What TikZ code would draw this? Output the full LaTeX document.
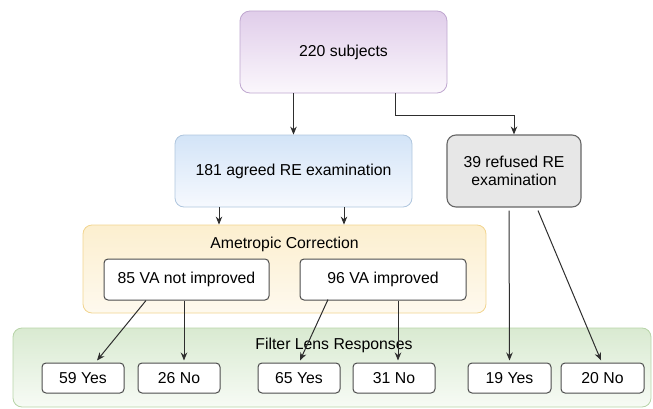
\documentclass[tikz,border=0pt]{standalone}
\usepackage{fontspec}
\setmainfont{Liberation Sans}
\usetikzlibrary{arrows.meta,calc}
\definecolor{purpB}{HTML}{BFA7CF}
\definecolor{purpT}{HTML}{E0CDEA}
\definecolor{purpL}{HTML}{FBF7FC}
\definecolor{blueB}{HTML}{AFC6DE}
\definecolor{blueT}{HTML}{D3E4F7}
\definecolor{blueL}{HTML}{F6F9FE}
\definecolor{grayB}{HTML}{666666}
\definecolor{grayF}{HTML}{E7E7E7}
\definecolor{yelB}{HTML}{F2D590}
\definecolor{yelT}{HTML}{FCEFCF}
\definecolor{yelL}{HTML}{FEF9EE}
\definecolor{grnB}{HTML}{B7D4A8}
\definecolor{grnT}{HTML}{D9EAD1}
\definecolor{grnL}{HTML}{F7FBF5}
\definecolor{ink}{HTML}{2E2E2E}
\tikzset{
  x=1pt,y=1pt,
  every node/.style={font=\fontsize{15.8}{18.5}\selectfont, inner sep=0pt, align=center},
  bigbox/.style={draw, line width=0.8pt, rounded corners=9pt},
  wbox/.style={draw=ink!85, fill=white, line width=1pt, rounded corners=4pt},
  arr/.style={draw=ink, line width=1pt, -{Stealth[length=8pt,width=6.5pt]}},
  lbl/.style={font=\fontsize{15.8}{18.5}\selectfont}
}
\begin{document}
\begin{tikzpicture}
\useasboundingbox (0,0) rectangle (653,408);
% containers
\node[bigbox, draw=purpB, top color=purpT, bottom color=purpL, minimum width=207, minimum height=82, rounded corners=10pt] (top) at (343.5,356) {220 subjects};
\node[bigbox, draw=blueB, top color=blueT, bottom color=blueL, minimum width=237, minimum height=72] (agreed) at (293.5,237) {181 agreed RE examination};
\node[bigbox, draw=grayB, fill=grayF, line width=1.1pt, minimum width=134, minimum height=72] (refused) at (514,237) {39 refused RE\\examination};
\node[bigbox, draw=yelB, top color=yelT, bottom color=yelL, minimum width=403, minimum height=88] (ame) at (284.5,139) {};
\node[lbl] (ametitle) at (284.5,164) {Ametropic Correction};
\node[bigbox, draw=grnB, top color=grnT, bottom color=grnL, minimum width=638, minimum height=79] (filt) at (332,40.5) {};
\node[lbl] (filttitle) at (334,63) {Filter Lens Responses};
% inner boxes
\node[wbox, minimum width=165, minimum height=41] (vanot) at (186.5,128.5) {85 VA not improved};
\node[wbox, minimum width=166, minimum height=41] (vaimp) at (383,128.5) {96 VA improved};
\node[wbox, minimum width=82, minimum height=30] (y59) at (83,30) {59 Yes};
\node[wbox, minimum width=82, minimum height=30] (n26) at (179,30) {26 No};
\node[wbox, minimum width=82, minimum height=30] (y65) at (299,30) {65 Yes};
\node[wbox, minimum width=82, minimum height=30] (n31) at (394,30) {31 No};
\node[wbox, minimum width=83, minimum height=30] (y19) at (509.5,30) {19 Yes};
\node[wbox, minimum width=83, minimum height=30] (n20) at (602.5,30) {20 No};
% connectors
\draw[arr] (agreed.north |- top.south) -- (agreed.north);
\coordinate (tr) at ($(top.south)+(51.5,0)$);
\draw[arr] (tr) -- ++(0,-22) -| (refused.north);
\coordinate (a1) at ($(agreed.south)+(-74.5,0)$);
\coordinate (a2) at ($(agreed.south)+(50.5,0)$);
\draw[arr] (a1) -- (a1 |- ame.north);
\draw[arr] (a2) -- (a2 |- ame.north);
\draw[arr] ($(vanot.south)+(-40.5,0)$) -- ($(y59.north)+(14,2)$);
\draw[arr] ($(vanot.south)+(-2.5,0)$) -- ($(n26.north)+(5,2)$);
\draw[arr] ($(vaimp.south)+(-55,1)$) -- ($(y65.north)+(1,2)$);
\draw[arr] ($(vaimp.south)+(15,0)$) -- ($(n31.north)+(4,2)$);
\draw[arr] ($(refused.south)+(-5,-3)$) -- ($(y19.north)+(0,2)$);
\draw[arr] ($(refused.south)+(24,-3)$) -- ($(n20.north)+(-1.5,2)$);
\end{tikzpicture}
\end{document}
